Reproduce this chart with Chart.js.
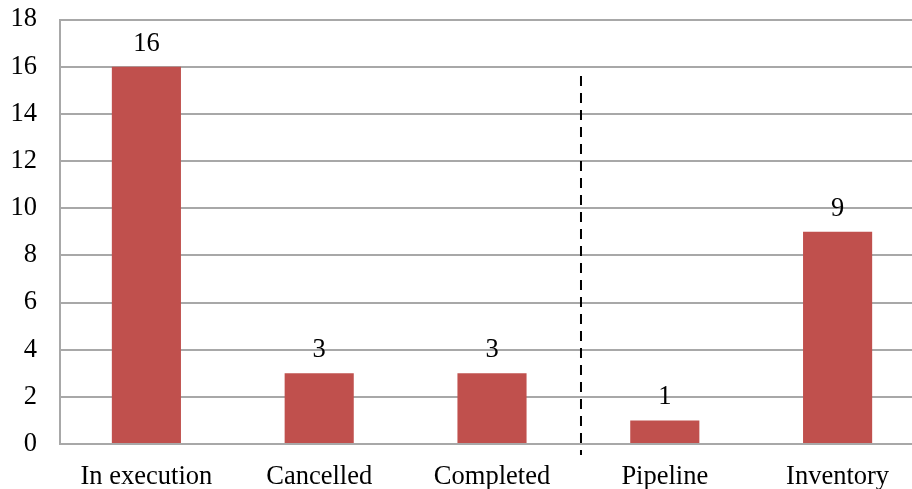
<!DOCTYPE html>
<html>
<head>
<meta charset="utf-8">
<script src="https://cdn.jsdelivr.net/npm/chart.js@4"></script>
<style>
  html, body { margin: 0; padding: 0; background: #fff; overflow: hidden; }
  #wrap { position: relative; width: 924px; height: 489px; }
</style>
</head>
<body>
<div id="wrap"><canvas id="c"></canvas></div>
<script>
// Project status counts
const categories = ['In execution', 'Cancelled', 'Completed', 'Pipeline', 'Inventory'];
const counts = [16, 3, 3, 1, 9];
const yTicks = [0, 2, 4, 6, 8, 10, 12, 14, 16, 18];

// Dashed separator between the completed group and the planned group
const dividerAt = 2.515;
const dividerTop = 15.6;
const dividerBottom = -0.47;

const FONT = "'Liberation Serif', 'Times New Roman', serif";
const FONT_SIZE = 26.5;

const valueLabels = {
  id: 'valueLabels',
  afterDatasetsDraw(chart) {
    const ctx = chart.ctx;
    const meta = chart.getDatasetMeta(0);
    ctx.save();
    ctx.font = FONT_SIZE + 'px ' + FONT;
    ctx.fillStyle = '#000';
    ctx.textAlign = 'center';
    ctx.textBaseline = 'alphabetic';
    meta.data.forEach((bar, i) => {
      ctx.fillText(String(counts[i]), bar.x, bar.y - 16);
    });
    ctx.restore();
  }
};

const divider = {
  id: 'divider',
  afterDatasetsDraw(chart) {
    const ctx = chart.ctx;
    const x = chart.scales.x.getPixelForValue(dividerAt);
    const y1 = chart.scales.y.getPixelForValue(dividerTop);
    const y2 = chart.scales.y.getPixelForValue(dividerBottom);
    ctx.save();
    ctx.strokeStyle = '#000';
    ctx.lineWidth = 2;
    ctx.setLineDash([10, 7]);
    ctx.beginPath();
    ctx.moveTo(x, y1);
    ctx.lineTo(x, y2);
    ctx.stroke();
    ctx.restore();
  }
};

new Chart(document.getElementById('c'), {
  type: 'bar',
  data: {
    labels: categories,
    datasets: [{
      data: counts,
      backgroundColor: '#c0504d',
      borderWidth: 0,
      barPercentage: 0.4,
      categoryPercentage: 1.0
    }]
  },
  options: {
    responsive: true,
    maintainAspectRatio: false,
    animation: false,
    layout: { padding: { top: 19.5, right: 0, left: 0, bottom: 0 } },
    plugins: { legend: { display: false }, tooltip: { enabled: false } },
    scales: {
      x: {
        grid: { display: false, drawTicks: false },
        border: { display: false },
        ticks: { color: '#000', font: { family: FONT, size: FONT_SIZE }, padding: 17, maxRotation: 0 },
        afterFit(scale) {
          scale.height = 45;
          scale.paddingLeft = 0;
          scale.paddingRight = 0;
        }
      },
      y: {
        min: 0,
        max: 18,
        afterBuildTicks(scale) { scale.ticks = yTicks.map(v => ({ value: v })); },
        grid: { color: '#a8a8a8', lineWidth: 2, drawTicks: false },
        border: { display: true, color: '#a8a8a8', width: 2 },
        ticks: { color: '#000', font: { family: FONT, size: FONT_SIZE }, padding: 23 },
        afterFit(scale) {
          scale.width = 60;
          scale.paddingTop = 0;
          scale.paddingBottom = 0;
        }
      }
    }
  },
  plugins: [valueLabels, divider]
});
</script>
</body>
</html>
